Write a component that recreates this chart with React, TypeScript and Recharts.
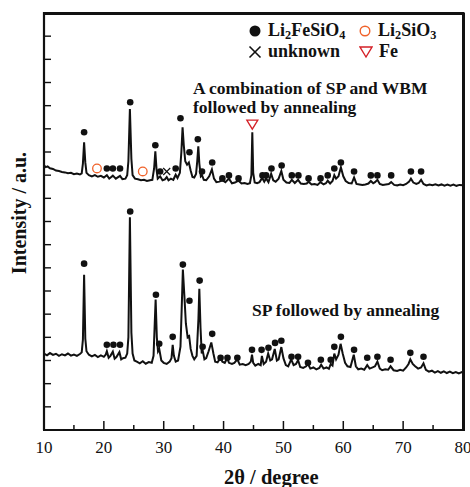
import React from 'react';
import { ComposedChart, Line, Scatter, XAxis, YAxis } from 'recharts';

// 2θ vs intensity (a.u.), traces offset vertically as in the figure
const spTrace: [number, number][] = [
  [10, 3.3], [10.5, 3.22], [11, 3.32], [11.5, 3.24], [12, 3.29], [12.5, 3.2], [13, 3.27], [13.5, 3.22],
  [14, 3.3], [14.5, 3.21], [15, 3.26], [15.5, 3.2], [16, 3.28], [16.3, 3.35], [16.5, 3.9], [16.7, 6.7],
  [16.9, 3.95], [17.1, 3.4], [17.5, 3.25], [18, 3.18], [18.5, 3.24], [19, 3.15], [19.5, 3.22], [20, 3.16],
  [20.3, 3.25], [20.5, 3.4], [20.8, 3.12], [21.1, 3.2], [21.5, 3.38], [21.8, 3.08], [22.1, 3.15], [22.6, 3.36],
  [22.9, 3.05], [23.2, 3.1], [23.6, 3.12], [23.9, 3.3], [24.1, 4.0], [24.35, 9.18], [24.6, 4.2], [24.8, 3.3],
  [25.1, 3.0], [25.5, 2.95], [26, 2.88], [26.5, 2.97], [27, 2.86], [27.5, 2.93], [28, 2.9], [28.3, 3.2],
  [28.5, 4.6], [28.65, 5.63], [28.85, 4.0], [29.05, 3.4], [29.25, 3.5], [29.6, 3.0], [30, 2.9], [30.5, 2.85],
  [31, 2.95], [31.3, 3.1], [31.5, 3.68], [31.7, 3.2], [32, 2.95], [32.4, 3.0], [32.8, 3.6], [33.0, 5.2],
  [33.2, 6.93], [33.45, 5.8], [33.7, 4.6], [34.0, 4.0], [34.25, 4.05], [34.5, 3.5], [34.8, 3.2], [35.1, 3.05],
  [35.5, 3.2], [35.8, 4.8], [35.95, 6.1], [36.15, 4.4], [36.35, 3.3], [36.5, 3.45], [36.8, 3.05], [37.1, 3.1],
  [37.5, 3.4], [37.95, 3.78], [38.3, 3.3], [38.6, 2.95], [39.0, 2.92], [39.5, 3.12], [39.8, 2.95], [40.2, 2.9],
  [40.6, 3.1], [40.9, 2.9], [41.4, 2.85], [41.8, 2.9], [42.3, 3.05], [42.7, 2.82], [43.2, 2.85], [43.7, 2.8],
  [44.2, 2.85], [44.55, 2.95], [44.75, 3.25], [44.95, 2.9], [45.3, 2.78], [45.8, 2.85], [46.2, 2.8], [46.4, 3.2],
  [46.7, 2.85], [47.1, 2.95], [47.45, 3.3], [47.8, 3.0], [48.1, 3.05], [48.55, 3.5], [48.9, 3.0], [49.2, 3.05],
  [49.65, 3.58], [50.0, 3.1], [50.4, 2.8], [50.8, 2.75], [51.3, 3.05], [51.7, 2.8], [52.1, 2.85], [52.45, 3.02],
  [52.8, 2.72], [53.3, 2.68], [53.8, 2.75], [54.1, 2.85], [54.5, 2.65], [55, 2.7], [55.5, 2.62], [56, 2.68],
  [56.3, 2.82], [56.7, 2.65], [57.2, 2.7], [57.6, 2.64], [57.9, 2.85], [58.2, 2.78], [58.5, 3.3], [58.8, 3.05],
  [59.2, 3.25], [59.55, 3.72], [59.9, 3.3], [60.3, 2.9], [60.7, 2.75], [61.2, 2.72], [61.75, 3.25], [62.1, 2.75],
  [62.5, 2.62], [63, 2.65], [63.5, 2.6], [64, 2.8], [64.4, 2.65], [64.9, 2.7], [65.3, 2.75], [65.7, 2.95],
  [66.1, 2.65], [66.5, 2.58], [67, 2.62], [67.5, 2.6], [67.9, 2.75], [68.4, 2.58], [69, 2.55], [69.5, 2.6],
  [70, 2.56], [70.5, 2.7], [70.9, 2.85], [71.2, 3.05], [71.6, 2.85], [72, 2.75], [72.5, 2.65], [73, 2.7],
  [73.4, 2.88], [73.8, 2.6], [74.3, 2.52], [74.8, 2.56], [75.3, 2.48], [75.8, 2.54], [76.3, 2.47], [76.8, 2.53],
  [77.3, 2.46], [77.8, 2.52], [78.3, 2.45], [78.8, 2.5], [79.3, 2.44], [79.8, 2.5], [80, 2.47],
];

const combTrace: [number, number][] = [
  [10, 11.42], [10.3, 11.35], [10.6, 11.38], [11, 11.3], [11.5, 11.27], [12, 11.2], [12.5, 11.18], [13, 11.14],
  [13.5, 11.12], [14, 11.08], [14.5, 11.1], [15, 11.04], [15.5, 11.07], [16, 11.03], [16.3, 11.08], [16.5, 11.5],
  [16.7, 12.42], [16.9, 11.55], [17.1, 11.1], [17.5, 11.0], [18, 10.95], [18.5, 11.0], [19, 10.93], [19.5, 10.97],
  [20, 10.9], [20.5, 11.0], [20.9, 10.85], [21.5, 10.98], [22, 10.85], [22.7, 10.97], [23.1, 10.83], [23.6, 10.85],
  [23.9, 11.0], [24.1, 11.6], [24.35, 13.85], [24.6, 11.7], [24.8, 11.0], [25.2, 10.85], [25.7, 10.82], [26.2, 10.78],
  [26.7, 10.8], [27.2, 10.75], [27.7, 10.78], [28.1, 10.8], [28.4, 11.3], [28.6, 12.03], [28.8, 11.25], [29.0, 10.85],
  [29.4, 10.95], [29.8, 10.78], [30.2, 10.82], [30.5, 10.92], [30.8, 10.78], [31.2, 10.85], [31.6, 10.8], [32.0, 11.02],
  [32.3, 10.88], [32.7, 11.1], [32.95, 12.0], [33.15, 13.07], [33.35, 12.3], [33.6, 11.6], [33.9, 11.45], [34.2, 11.55],
  [34.5, 11.2], [34.8, 10.92], [35.1, 10.9], [35.4, 11.05], [35.6, 11.6], [35.78, 12.25], [35.95, 11.5], [36.2, 10.95],
  [36.4, 11.0], [36.7, 10.8], [37.1, 10.78], [37.6, 10.95], [38.05, 11.25], [38.4, 10.85], [38.8, 10.7], [39.3, 10.72],
  [39.8, 10.78], [40.3, 10.7], [40.9, 10.85], [41.4, 10.65], [41.9, 10.68], [42.5, 10.76], [43, 10.64], [43.5, 10.66],
  [44, 10.62], [44.4, 10.65], [44.65, 11.0], [44.8, 12.85], [44.95, 11.1], [45.2, 10.68], [45.6, 10.65], [46.0, 10.7],
  [46.45, 10.88], [46.8, 10.72], [47.1, 10.86], [47.5, 10.7], [47.95, 11.06], [48.3, 10.78], [48.7, 10.72], [49.2, 10.85],
  [49.65, 11.18], [50.0, 10.8], [50.5, 10.68], [51.0, 10.66], [51.4, 10.8], [51.9, 10.66], [52.45, 10.8], [52.9, 10.64],
  [53.4, 10.62], [53.9, 10.64], [54.2, 10.72], [54.7, 10.6], [55.2, 10.62], [55.7, 10.58], [56.2, 10.7], [56.7, 10.6],
  [57.1, 10.65], [57.4, 10.76], [57.8, 10.64], [58.2, 10.75], [58.5, 11.0], [58.8, 10.85], [59.2, 10.95], [59.6, 11.34],
  [60.0, 10.95], [60.4, 10.75], [60.9, 10.66], [61.4, 10.64], [61.8, 10.9], [62.2, 10.62], [62.7, 10.6], [63.2, 10.58],
  [63.7, 10.6], [64.2, 10.64], [64.6, 10.75], [65.0, 10.65], [65.3, 10.7], [65.7, 10.8], [66.1, 10.62], [66.6, 10.58],
  [67.1, 10.6], [67.6, 10.62], [68.0, 10.7], [68.5, 10.58], [69, 10.56], [69.5, 10.6], [70, 10.57], [70.5, 10.62],
  [71.0, 10.72], [71.3, 10.85], [71.7, 10.68], [72.2, 10.62], [72.6, 10.66], [73.0, 10.8], [73.4, 10.62], [73.9, 10.56],
  [74.4, 10.6], [74.9, 10.57], [75.4, 10.61], [75.9, 10.56], [76.4, 10.6], [76.9, 10.55], [77.4, 10.59], [77.9, 10.55],
  [78.4, 10.59], [78.9, 10.54], [79.4, 10.58], [80, 10.56],
];

// phase markers
const feSilicateTop: [number, number][] = [
  [16.7, 12.85], [20.5, 11.29], [21.5, 11.29], [22.7, 11.29], [24.4, 14.15], [28.6, 12.29], [29.4, 11.16],
  [32.0, 11.29], [32.8, 13.46], [34.3, 11.99], [35.7, 12.55], [36.4, 11.16], [38.1, 11.55], [39.8, 10.86],
  [40.9, 10.99], [42.5, 10.86], [46.5, 10.99], [47.1, 10.99], [48.0, 11.29], [49.7, 11.42], [51.4, 10.99],
  [52.5, 10.99], [54.2, 10.86], [56.2, 10.86], [57.4, 10.99], [58.5, 11.29], [59.6, 11.55], [61.8, 11.16],
  [64.6, 10.99], [65.7, 10.99], [68.0, 10.99], [71.3, 11.16], [73.0, 11.16],
];
const feSilicateBottom: [number, number][] = [
  [16.7, 7.18], [20.5, 3.68], [21.6, 3.68], [22.7, 3.68], [24.4, 9.43], [28.7, 5.84], [29.25, 3.72],
  [31.5, 4.02], [33.2, 7.14], [34.3, 5.58], [36.0, 6.45], [36.5, 3.59], [38.1, 4.15], [39.5, 3.12],
  [40.65, 3.12], [42.3, 3.12], [44.75, 3.46], [46.35, 3.46], [47.5, 3.55], [48.6, 3.76], [49.65, 3.85],
  [51.35, 3.16], [52.45, 3.16], [54.1, 2.9], [56.25, 3.03], [57.9, 3.03], [58.5, 3.59], [59.6, 4.02],
  [61.8, 3.46], [64.0, 3.12], [65.7, 3.16], [67.9, 3.03], [71.2, 3.33], [73.4, 3.16],
];
const liSilicate: [number, number][] = [[18.85, 11.29], [26.5, 11.16]];
const unknownPhase: [number, number][] = [[30.5, 11.16]];
const ironPhase: [number, number][] = [[44.8, 13.2]];

const xTicks = [10, 15, 20, 25, 30, 35, 40, 45, 50, 55, 60, 65, 70, 75, 80];
const yTicks = [0, 1, 2, 3, 4, 5, 6, 7, 8, 9, 10, 11, 12, 13, 14, 15, 16, 17, 18];

const FONT = "'Liberation Serif', 'Times New Roman', serif";
const INK = '#111';
const ORANGE = '#f0622a';
const RED = '#d42027';

const toPts = (arr: [number, number][]) => arr.map(([x, y]) => ({ x, y }));

const BottomTick = (props: any) => {
  const { x, y, payload } = props;
  const major = payload.value % 10 === 0;
  return (
    <g>
      <line x1={x} x2={x} y1={y} y2={y - (major ? 9 : 5)} stroke={INK} strokeWidth={1.5} />
      {major && (
        <text x={x} y={y + 23} textAnchor="middle" fontSize={17} fontFamily={FONT} fill={INK}>
          {payload.value}
        </text>
      )}
    </g>
  );
};

// side ticks; the top tick also draws the frame edge down to the x axis
const LeftTick = (props: any) => {
  const { x, y, payload } = props;
  return (
    <g>
      <line x1={x} x2={x + 7} y1={y} y2={y} stroke={INK} strokeWidth={1.4} />
      {payload.value === 18 && (
        <>
          <line x1={x} x2={x} y1={y - 1} y2={y + 417} stroke={INK} strokeWidth={2.2} />
          <line x1={x - 1} x2={x + 420.5} y1={y} y2={y} stroke={INK} strokeWidth={2.2} />
        </>
      )}
    </g>
  );
};
const RightTick = (props: any) => {
  const { x, y, payload } = props;
  return (
    <g>
      <line x1={x} x2={x - 7} y1={y} y2={y} stroke={INK} strokeWidth={1.4} />
      {payload.value === 18 && <line x1={x} x2={x} y1={y - 1} y2={y + 417} stroke={INK} strokeWidth={2.2} />}
    </g>
  );
};

const Dot = (p: any) => <circle cx={p.cx} cy={p.cy} r={3.3} fill={INK} />;
const OpenDot = (p: any) => <circle cx={p.cx} cy={p.cy} r={4.3} fill="none" stroke={ORANGE} strokeWidth={1.3} />;
const Cross = (p: any) => (
  <g stroke={INK} strokeWidth={1.2}>
    <line x1={p.cx - 3.5} y1={p.cy - 3.5} x2={p.cx + 3.5} y2={p.cy + 3.5} />
    <line x1={p.cx - 3.5} y1={p.cy + 3.5} x2={p.cx + 3.5} y2={p.cy - 3.5} />
  </g>
);
const Tri = (p: any) => (
  <polygon
    points={`${p.cx - 5.5},${p.cy - 4} ${p.cx + 5.5},${p.cy - 4} ${p.cx},${p.cy + 5}`}
    fill="none"
    stroke={RED}
    strokeWidth={1.3}
  />
);

const Sub = ({ children }: { children: React.ReactNode }) => (
  <sub style={{ fontSize: '0.68em', verticalAlign: '-0.25em', lineHeight: 0 }}>{children}</sub>
);

const LegendIcon = ({ kind }: { kind: string }) => (
  <svg width={14} height={14} style={{ position: 'absolute', left: -7, top: -7 }}>
    {kind === 'dot' && <circle cx={7} cy={7} r={5.5} fill={INK} />}
    {kind === 'open' && <circle cx={7} cy={7} r={4.8} fill="none" stroke={ORANGE} strokeWidth={1.4} />}
    {kind === 'cross' && (
      <g stroke={INK} strokeWidth={1.6}>
        <line x1={1.5} y1={1.5} x2={12.5} y2={12.5} />
        <line x1={1.5} y1={12.5} x2={12.5} y2={1.5} />
      </g>
    )}
    {kind === 'tri' && <polygon points="1,2 13,2 7,12" fill="none" stroke={RED} strokeWidth={1.4} />}
  </svg>
);

const legendItems = [
  { kind: 'dot', cx: 255, cy: 31, label: <>Li<Sub>2</Sub>FeSiO<Sub>4</Sub></> },
  { kind: 'open', cx: 365, cy: 31, label: <>Li<Sub>2</Sub>SiO<Sub>3</Sub></> },
  { kind: 'cross', cx: 255, cy: 52, label: <>unknown</> },
  { kind: 'tri', cx: 366, cy: 52, label: <>Fe</> },
];

const boldText: React.CSSProperties = {
  position: 'absolute',
  fontFamily: FONT,
  fontWeight: 'bold',
  fontSize: 17.5,
  lineHeight: '18px',
  color: INK,
  whiteSpace: 'nowrap',
};

export default function App() {
  return (
    <div style={{ position: 'absolute', left: 0, top: 0, width: 470, height: 487, background: '#fff' }}>
      <ComposedChart width={470} height={487} margin={{ top: 13, right: 6, bottom: 0, left: 43 }}>
        <XAxis
          type="number"
          dataKey="x"
          domain={[10, 80]}
          ticks={xTicks}
          interval={0}
          height={57}
          tickSize={0}
          tickMargin={0}
          tickLine={false}
          tick={BottomTick}
          axisLine={{ stroke: INK, strokeWidth: 2 }}
          allowDataOverflow
        />
        <YAxis
          yAxisId="left"
          type="number"
          dataKey="y"
          domain={[0, 18]}
          ticks={yTicks}
          interval={0}
          width={1}
          tickSize={0}
          tickMargin={0}
          tickLine={false}
          tick={LeftTick}
          axisLine={{ stroke: INK, strokeWidth: 2 }}
          allowDataOverflow
        />
        <YAxis
          yAxisId="right"
          orientation="right"
          type="number"
          dataKey="y"
          domain={[0, 18]}
          ticks={yTicks}
          interval={0}
          width={1}
          tickSize={0}
          tickMargin={0}
          tickLine={false}
          tick={RightTick}
          axisLine={{ stroke: INK, strokeWidth: 2 }}
        />
        <Line yAxisId="left" data={toPts(combTrace)} dataKey="y" type="linear" stroke={INK} strokeWidth={2} dot={false} isAnimationActive={false} />
        <Line yAxisId="left" data={toPts(spTrace)} dataKey="y" type="linear" stroke={INK} strokeWidth={2} dot={false} isAnimationActive={false} />
        <Scatter yAxisId="left" data={toPts(feSilicateTop)} dataKey="y" shape={Dot} isAnimationActive={false} />
        <Scatter yAxisId="left" data={toPts(feSilicateBottom)} dataKey="y" shape={Dot} isAnimationActive={false} />
        <Scatter yAxisId="left" data={toPts(liSilicate)} dataKey="y" shape={OpenDot} isAnimationActive={false} />
        <Scatter yAxisId="left" data={toPts(unknownPhase)} dataKey="y" shape={Cross} isAnimationActive={false} />
        <Scatter yAxisId="left" data={toPts(ironPhase)} dataKey="y" shape={Tri} isAnimationActive={false} />
      </ComposedChart>

      {/* plot frame */}
      <div
        style={{
          position: 'absolute',
          left: 43,
          top: 13,
          width: 421.5,
          height: 418,
          boxSizing: 'border-box',
          border: `2px solid ${INK}`,
          pointerEvents: 'none',
        }}
      />

      {legendItems.map((it, i) => (
        <div key={i} style={{ position: 'absolute', left: it.cx, top: it.cy, width: 0, height: 0 }}>
          <LegendIcon kind={it.kind} />
          <div style={{ ...boldText, fontSize: 18, left: 13, top: -10 }}>{it.label}</div>
        </div>
      ))}

      <div style={{ ...boldText, left: 193, top: 79 }}>A combination of SP and WBM</div>
      <div style={{ ...boldText, left: 193, top: 98 }}>followed by annealing</div>
      <div style={{ ...boldText, left: 252, top: 301 }}>SP followed by annealing</div>

      <div style={{ ...boldText, fontSize: 20.5, lineHeight: '22px', left: 224, top: 466 }}>2θ / degree</div>
      <div
        style={{
          ...boldText,
          fontSize: 20,
          lineHeight: '22px',
          left: -81,
          top: 202,
          width: 200,
          textAlign: 'center',
          transform: 'rotate(-90deg)',
        }}
      >
        Intensity / a.u.
      </div>
    </div>
  );
}
